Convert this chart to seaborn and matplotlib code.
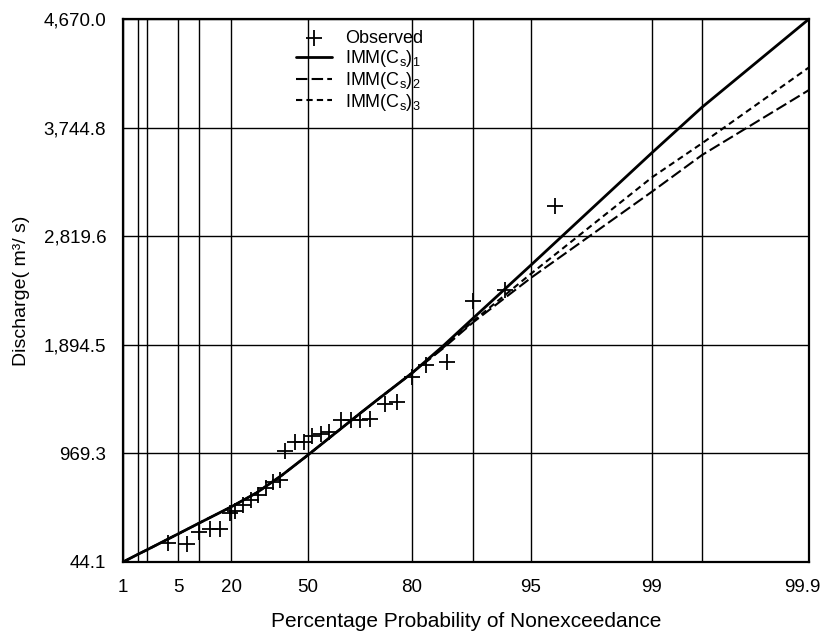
import matplotlib
matplotlib.use('Agg')
import matplotlib.pyplot as plt
import matplotlib.transforms as mtransforms
import seaborn as sns
import numpy as np

# 概率纸横轴：非超越概率(%) 与其在轴上的相对位置
grid_prob = [1, 2, 3, 5, 10, 20, 50, 80, 90, 95, 99, 99.5, 99.9]
grid_pos = [0, 15, 24, 55, 76, 108, 185, 289, 350, 408, 529, 579, 686]
label_prob = [1, 5, 20, 50, 80, 95, 99, 99.9]
minor_prob = [3.7, 30, 67, 97.3]

y_ticks = [44.1, 969.3, 1894.5, 2819.6, 3744.8, 4670.0]

# 实测点
obs_prob = [4.35, 7.1, 10.0, 13.4, 16.6, 19.7, 21.6, 24.7, 27.8, 30.5, 33.6,
            36.4, 39.1, 41.0, 44.9, 48.4, 51.2, 53.8, 56.1, 59.5, 62.4, 65.0,
            67.9, 72.2, 75.7, 80.0, 82.3, 85.7, 90.0, 92.8, 95.8]
obs_q = [206, 197, 300, 325, 325, 461, 478, 530, 572, 615, 674,
         726, 743, 990, 1066, 1066, 1117, 1135, 1152, 1254, 1254, 1254,
         1262, 1390, 1407, 1620, 1722, 1748, 2268, 2361, 3077]

# 三条 IMM 频率曲线
curve_prob = [1, 2, 3, 5, 10, 20, 30, 40, 50, 65, 70, 80, 85, 90, 95, 99, 99.5, 99.9]
imm1 = [44.1, 110, 148, 283, 375, 513, 634, 786, 956, 1310, 1426, 1654,
        1880, 2120, 2574, 3531, 3918, 4670]
imm2 = [44.1, 110, 148, 283, 375, 513, 634, 786, 956, 1310, 1426, 1654,
        1860, 2085, 2465, 3199, 3511, 4065]
imm3 = [44.1, 110, 148, 283, 375, 513, 634, 786, 956, 1310, 1426, 1654,
        1865, 2095, 2500, 3321, 3611, 4258]


def fwd(p):
    return np.interp(p, grid_prob, grid_pos)


def inv(x):
    return np.interp(x, grid_pos, grid_prob)


sns.set_style("white")
plt.rcParams['font.family'] = ['Liberation Sans', 'DejaVu Sans']
plt.rcParams['mathtext.fontset'] = 'custom'
plt.rcParams['mathtext.rm'] = 'Liberation Sans'
plt.rcParams['text.color'] = 'black'
plt.rcParams['axes.labelcolor'] = 'black'
plt.rcParams['xtick.color'] = 'black'
plt.rcParams['ytick.color'] = 'black'

fig = plt.figure(figsize=(8.25, 6.39), dpi=100)
ax = fig.add_axes([123 / 825, 1 - 562 / 639, 686 / 825, 543 / 639])

sns.scatterplot(x=obs_prob, y=obs_q, marker='+', s=130, color='black',
                linewidth=1.3, ax=ax, label='Observed', zorder=4)
sns.lineplot(x=curve_prob, y=imm1, color='black', lw=2, ax=ax, errorbar=None,
             label='IMM(C$_\\mathrm{s}$)$_1$', zorder=3)
sns.lineplot(x=curve_prob, y=imm2, color='black', lw=1.5, ax=ax, errorbar=None,
             linestyle=(0, (5.5, 2)), label='IMM(C$_\\mathrm{s}$)$_2$', zorder=3)
sns.lineplot(x=curve_prob, y=imm3, color='black', lw=1.5, ax=ax, errorbar=None,
             linestyle=(0, (3, 2)), label='IMM(C$_\\mathrm{s}$)$_3$', zorder=3)

ax.set_xscale('function', functions=(fwd, inv))
ax.set_xlim(1, 99.9)
ax.set_ylim(44.1, 4670.0)

ax.set_xticks(grid_prob)
ax.set_xticklabels([str(p) if p in label_prob else '' for p in grid_prob])
ax.set_xticks(minor_prob, minor=True)
ax.set_yticks(y_ticks)
ax.set_yticklabels([f'{v:,.1f}' for v in y_ticks])
mid = [(a + b) / 2 for a, b in zip(y_ticks[:-1], y_ticks[1:])]
ax.set_yticks(mid, minor=True)

ax.grid(True, which='major', color='black', linewidth=1)
ax.tick_params(which='major', direction='out', length=7, width=1.3,
               labelsize=13.5, pad=5)
ax.tick_params(which='minor', direction='out', length=4, width=1.2)
for s in ax.spines.values():
    s.set_color('black')
    s.set_linewidth(1.6)

# 最右端 99.9 稍向左移，避免出界
last = ax.get_xticklabels()[-1]
last.set_transform(last.get_transform() +
                   mtransforms.ScaledTranslation(-5 / 72, 0, fig.dpi_scale_trans))

ax.set_xlabel('Percentage Probability of Nonexceedance', fontsize=15, labelpad=12)
ax.set_ylabel('Discharge( m³/ s)', fontsize=14, labelpad=10)

h, l = ax.get_legend_handles_labels()
order = [l.index('Observed')] + [i for i in range(len(l)) if l[i] != 'Observed']
ax.legend([h[i] for i in order], [l[i] for i in order], frameon=False,
          loc='upper left', bbox_to_anchor=(287 / 825, 1 - 21 / 639),
          bbox_transform=fig.transFigure, borderpad=0, labelspacing=0.05,
          handlelength=2.0, handletextpad=0.7,
          prop={'family': ['Liberation Sans'], 'size': 13})

fig.savefig('out.png', dpi=100)
